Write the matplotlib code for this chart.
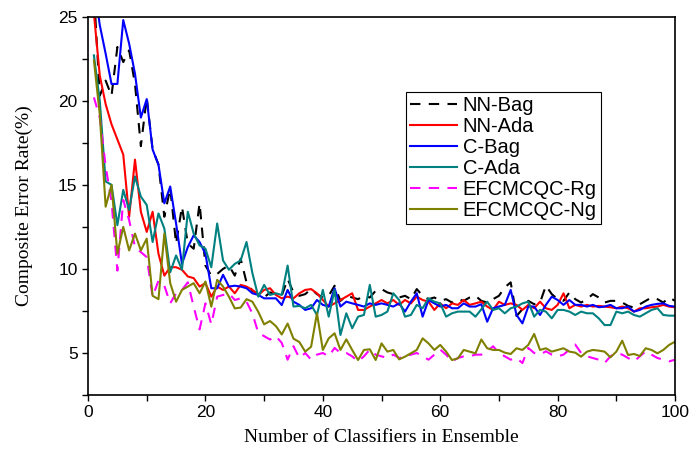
# Composite error rate vs ensemble size

import numpy as np
import matplotlib.pyplot as plt
from matplotlib.ticker import MultipleLocator

# Data (x = 1..100 classifiers)

n_classifiers = list(range(1, 101))

nn_bag = [26.5, 20.3, 21.2, 20.3, 23.2, 22.3, 23.0, 21.0, 17.3, 20.2,
          17.1, 16.2, 13.1, 14.8, 11.5, 13.7, 11.5, 11.2, 13.9, 10.2,
          9.6, 9.7, 10.0, 10.2, 9.6, 10.6, 9.2, 8.7, 8.5, 8.3,
          8.6, 8.5, 8.4, 9.4, 8.6, 8.4, 8.5, 8.8, 8.5, 8.3,
          8.4, 9.0, 8.1, 8.4, 8.3, 8.2, 8.4, 8.3, 8.7, 8.8,
          8.6, 8.5, 8.3, 8.4, 8.2, 8.8, 8.4, 8.2, 8.3, 8.1,
          8.2, 8.0, 8.2, 8.1, 8.3, 8.4, 8.1, 8.0, 8.2, 8.4,
          8.9, 9.2, 7.2, 7.6, 8.1, 7.9, 8.0, 9.0, 8.5, 8.2,
          8.1, 8.6, 8.2, 8.0, 8.2, 8.5, 8.3, 8.0, 8.1, 8.1,
          8.0, 7.8, 7.7, 7.9, 8.1, 8.3, 8.2, 8.0, 8.3, 8.1]

nn_ada = [25.2, 21.5, 19.8, 18.6, 17.7, 16.8, 13.1, 16.5, 13.4, 12.2,
          13.4, 10.9, 9.6, 10.1, 10.1, 9.95, 9.55, 9.45, 8.95, 9.15,
          8.35, 8.95, 8.75, 8.95, 8.55, 9.05, 8.95, 8.75, 8.45, 8.75,
          8.85, 8.45, 8.25, 8.35, 8.25, 8.55, 8.75, 8.8, 8.55, 8.15,
          7.76, 7.95, 8.15, 8.35, 8.55, 7.56, 7.56, 7.76, 7.95, 8.15,
          7.95, 8.15, 7.86, 8.15, 7.95, 8.35, 8.15, 8.05, 7.56, 7.95,
          7.66, 7.95, 7.86, 8.15, 7.86, 7.95, 8.05, 7.76, 7.56, 8.05,
          7.86, 7.95, 7.86, 7.56, 7.86, 7.66, 8.05, 7.66, 7.56, 7.86,
          8.55, 7.66, 7.86, 7.76, 7.86, 7.76, 7.8, 7.76, 7.72, 7.66,
          7.76, 7.66, 7.46, 7.66, 7.66, 7.72, 7.76, 7.86, 7.76, 7.72]

c_bag = [27.0, 24.5, 22.8, 21.0, 21.0, 24.8, 23.4, 21.6, 19.0, 20.1,
         17.1, 16.2, 13.9, 14.9, 12.7, 10.3, 11.3, 12.0, 11.6, 10.9,
         8.85, 8.85, 9.65, 8.95, 9.0, 8.95, 8.85, 8.55, 8.45, 8.25,
         8.25, 8.25, 7.85, 8.75, 8.05, 7.86, 7.56, 7.66, 8.15, 7.86,
         7.76, 8.85, 7.76, 8.05, 7.95, 7.86, 7.76, 7.95, 7.86, 7.95,
         7.86, 7.76, 7.95, 7.46, 8.05, 8.55, 7.16, 8.15, 7.95, 7.76,
         7.86, 7.66, 7.66, 7.95, 7.76, 7.76, 7.9, 6.86, 7.66, 7.76,
         7.86, 8.75, 7.26, 6.76, 7.76, 7.76, 7.26, 7.86, 8.35, 8.15,
         7.86, 8.15, 7.86, 7.86, 7.76, 7.86, 7.72, 7.76, 7.86, 7.66,
         7.66, 7.76, 7.46, 7.56, 7.76, 7.86, 7.92, 7.95, 7.8, 7.76]

c_ada = [22.7, 20.0, 15.2, 15.0, 12.6, 14.7, 13.5, 15.5, 14.3, 13.8,
         11.6, 13.3, 12.4, 9.8, 10.8, 9.95, 13.4, 12.1, 11.4, 11.2,
         10.1, 12.7, 10.5, 9.95, 10.3, 10.5, 11.6, 9.75, 8.35, 9.05,
         8.45, 8.55, 8.45, 10.2, 7.76, 7.8, 7.66, 7.86, 7.26, 8.75,
         7.16, 8.75, 6.07, 7.36, 6.47, 7.16, 7.26, 9.05, 7.16, 7.26,
         7.46, 8.55, 8.15, 7.16, 7.26, 7.86, 7.66, 8.25, 8.05, 7.95,
         7.16, 7.36, 7.46, 7.46, 7.46, 7.16, 7.6, 8.05, 7.56, 7.66,
         7.36, 7.66, 7.76, 7.95, 8.05, 7.16, 7.56, 7.46, 7.06, 7.56,
         7.56, 7.46, 7.26, 7.46, 7.36, 7.36, 7.06, 6.66, 6.66, 7.46,
         7.36, 7.46, 7.26, 7.16, 7.36, 7.56, 7.66, 7.26, 7.22, 7.22]

efcmcqc_rg = [20.2, 19.0, 16.1, 14.0, 9.9, 14.1, 12.9, 11.3, 11.0, 10.7,
              8.35, 9.3, 9.0, 7.95, 8.55, 8.75, 9.2, 7.75, 6.4, 7.95,
              6.7, 8.35, 8.45, 8.55, 8.15, 8.25, 8.05, 7.35, 6.2, 6.0,
              5.8, 6.0, 5.6, 4.6, 5.4, 4.7, 5.0, 4.6, 4.9, 5.0,
              4.8, 5.3, 5.0, 5.0, 4.8, 4.5, 4.8, 5.2, 4.9, 4.8,
              4.7, 4.9, 4.7, 4.8, 4.9, 5.0, 4.8, 4.6, 4.9, 5.2,
              4.9, 4.5, 4.7, 4.8, 4.8, 4.9, 4.9, 5.1, 5.4, 5.0,
              4.8, 4.6, 4.7, 4.4, 5.3, 5.0, 4.9, 5.1, 4.9, 4.8,
              4.9, 5.2, 5.5, 5.0, 4.8, 4.7, 4.6, 4.4, 4.8, 5.0,
              4.9, 4.7, 4.5, 4.8, 5.1, 4.9, 4.7, 4.6, 4.5, 4.6]

efcmcqc_ng = [22.4, 19.2, 13.7, 15.0, 10.9, 12.5, 11.1, 12.1, 11.1, 11.8,
              8.4, 8.2, 12.1, 9.15, 8.05, 8.75, 8.95, 9.15, 8.55, 9.25,
              7.75, 9.35, 8.95, 8.35, 7.65, 7.7, 8.2, 8.05, 7.45, 6.7,
              6.9, 6.6, 6.1, 6.75, 5.85, 5.65, 5.08, 5.37, 7.36, 5.18,
              5.87, 6.17, 5.18, 5.81, 5.18, 4.58, 5.18, 5.22, 4.58, 5.57,
              5.08, 5.18, 4.62, 4.78, 4.98, 5.18, 5.87, 5.57, 5.18, 5.48,
              5.08, 4.58, 4.68, 5.18, 5.08, 4.98, 5.8, 5.28, 5.18, 5.18,
              5.02, 4.94, 5.28, 5.18, 5.48, 6.13, 5.18, 5.28, 5.08, 5.18,
              5.28, 5.08, 5.02, 4.78, 5.08, 5.18, 5.14, 5.08, 4.74, 5.08,
              5.73, 4.88, 4.94, 4.82, 5.28, 5.18, 4.98, 5.18, 5.48, 5.67]

# Plotting

plt.rcParams['font.family'] = ['Liberation Sans', 'DejaVu Sans']

fig = plt.figure(figsize=(6.91, 4.5), dpi=100)
ax = fig.add_axes([0.1274, 0.1222, 0.8495, 0.8407])

lw = 1.5
ax.plot(n_classifiers, nn_bag, color='black', lw=lw, linestyle=(0, (5, 4)), label='NN-Bag')
ax.plot(n_classifiers, nn_ada, color='#ff0000', lw=lw, label='NN-Ada')
ax.plot(n_classifiers, c_bag, color='#0000ff', lw=lw, label='C-Bag')
ax.plot(n_classifiers, c_ada, color='#008080', lw=lw, label='C-Ada')
ax.plot(n_classifiers, efcmcqc_rg, color='#ff00ff', lw=lw, linestyle=(0, (5, 4)), label='EFCMCQC-Rg')
ax.plot(n_classifiers, efcmcqc_ng, color='#808000', lw=lw, label='EFCMCQC-Ng')

ax.set_xlim(0, 100)
ax.set_ylim(2.5, 25)
ax.xaxis.set_major_locator(MultipleLocator(20))
ax.xaxis.set_minor_locator(MultipleLocator(10))
ax.yaxis.set_major_locator(MultipleLocator(5))
ax.yaxis.set_minor_locator(MultipleLocator(2.5))
ax.tick_params(which='both', direction='out', length=4, width=1, labelsize=12.5,
               top=False, right=False)
for s in ax.spines.values():
    s.set_linewidth(1.2)

ax.set_xlabel('Number of Classifiers in Ensemble', family='Liberation Serif', fontsize=14, labelpad=6)
ax.set_ylabel('Composite Error Rate(%)', family='Liberation Serif', fontsize=14, labelpad=18)

leg = ax.legend(loc='upper left', bbox_to_anchor=(0.542, 0.80), fontsize=14.5,
                handlelength=2.3, labelspacing=0.1, handletextpad=0.3,
                borderpad=0.2, borderaxespad=0, fancybox=False, framealpha=1)
leg.get_frame().set_edgecolor('black')
leg.get_frame().set_linewidth(0.8)

plt.savefig('out.png', dpi=100)
